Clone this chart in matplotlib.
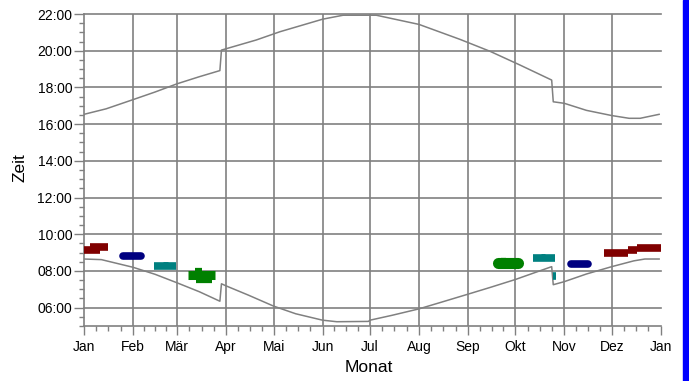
import matplotlib
matplotlib.use("Agg")
import matplotlib.pyplot as plt
import matplotlib.dates as mdates
from matplotlib.patches import Rectangle
from matplotlib.ticker import FixedLocator, FuncFormatter, MultipleLocator
import pandas as pd

YEAR = 2015
month_labels = ["Jan", "Feb", "Mär", "Apr", "Mai", "Jun", "Jul",
                "Aug", "Sep", "Okt", "Nov", "Dez", "Jan"]

# Sunrise / sunset (local time, incl. daylight saving jumps)
sunrise_dates = ["01-01", "01-12", "02-01", "02-15", "03-01", "03-15", "03-28",
                 "03-29", "04-01", "04-15", "05-01", "05-15", "06-01", "06-10",
                 "06-30", "07-01", "07-15", "08-01", "08-14", "09-01", "09-15",
                 "10-01", "10-24", "10-25", "11-01", "11-15", "12-01", "12-15",
                 "12-22", "12-31"]
sunrise_times = ["8:39", "8:37", "8:12", "7:49", "7:21", "6:52", "6:21",
                 "7:18", "7:11", "6:41", "6:05", "5:40", "5:19", "5:14",
                 "5:15", "5:19", "5:35", "5:56", "6:16", "6:44", "7:06",
                 "7:32", "8:14", "7:15", "7:25", "7:50", "8:14", "8:33",
                 "8:39", "8:39"]

sunset_dates = ["01-01", "01-15", "02-01", "02-15", "03-01", "03-15", "03-28",
                "03-29", "04-20", "05-05", "06-01", "06-14", "07-05", "08-01",
                "08-27", "09-15", "10-04", "10-24", "10-25", "11-01", "11-15",
                "12-01", "12-12", "12-19", "12-31"]
sunset_times = ["16:32", "16:50", "17:20", "17:45", "18:12", "18:35", "18:55",
                "20:02", "20:35", "21:02", "21:43", "21:56", "21:56", "21:26",
                "20:37", "19:58", "19:13", "18:24", "17:13", "17:08", "16:45",
                "16:28", "16:19", "16:19", "16:32"]

# Marked periods: (first day, last day, time of day)
marks_darkred = [("01-01", "01-10", "9:08"), ("01-05", "01-15", "9:18"),
                 ("11-26", "12-10", "9:00"), ("12-11", "12-16", "9:08"),
                 ("12-17", "12-31", "9:16")]
marks_navy = [("01-26", "02-05", "8:49"), ("11-05", "11-15", "8:22")]
marks_teal = [("02-14", "02-27", "8:15"), ("10-12", "10-25", "8:42"),
              ("10-25", "10-26", "7:44")]
marks_teal_small = [("02-20", "02-22", "8:22"), ("10-17", "10-19", "8:48")]
marks_green_spring = [("03-08", "03-24", "7:47")]
marks_green_autumn = [("09-20", "10-02", "8:26")]
marks_green_small = [("03-13", "03-22", "7:32"), ("03-12", "03-16", "8:00"),
                     ("09-22", "09-24", "8:34")]


def day(md):
    return mdates.date2num(pd.Timestamp(f"{YEAR}-{md}"))


def hours(hm):
    h, m = hm.split(":")
    return int(h) + int(m) / 60.0


GRAY = "#808080"
plt.rcParams["font.family"] = ["Liberation Sans", "DejaVu Sans"]

fig = plt.figure(figsize=(6.89, 3.81), dpi=100)
ax = fig.add_axes([84 / 689, 55 / 381, 576.7 / 689, 312 / 381])

x0 = day("01-01")
x1 = mdates.date2num(pd.Timestamp(f"{YEAR + 1}-01-01"))
ax.set_xlim(x0, x1)
ax.set_ylim(5, 22)

# grid
month_starts = [mdates.date2num(pd.Timestamp(YEAR, m, 1)) for m in range(1, 13)] + [x1]
for xm in month_starts[1:-1]:
    ax.axvline(xm, color=GRAY, lw=1.2, zorder=1)
for yh in range(6, 23, 2):
    ax.axhline(yh, color=GRAY, lw=1.2, zorder=1, clip_on=False)

# sunrise / sunset curves
ax.plot([day(d) for d in sunrise_dates], [hours(t) for t in sunrise_times],
        color=GRAY, lw=1.1, zorder=2)
ax.plot([day(d) for d in sunset_dates], [hours(t) for t in sunset_times],
        color=GRAY, lw=1.1, zorder=2)


def draw_marks(segs, color, lw, cap="butt"):
    for a, b, t in segs:
        ax.plot([day(a), day(b) + 1], [hours(t)] * 2, color=color, lw=lw,
                solid_capstyle=cap, zorder=3)


draw_marks(marks_darkred, "#800000", 5.5)
draw_marks(marks_navy, "#000080", 5.5, cap="round")
draw_marks(marks_teal, "#008080", 5.5)
draw_marks(marks_teal_small, "#008080", 3.5)
draw_marks(marks_green_spring, "#008000", 6.5)
draw_marks(marks_green_autumn, "#008000", 8.0, cap="round")
draw_marks(marks_green_small, "#008000", 4.5)

# axes styling
for s in ("top", "right"):
    ax.spines[s].set_visible(False)
for s in ("left", "bottom"):
    ax.spines[s].set_color(GRAY)
    ax.spines[s].set_linewidth(1.2)

ax.xaxis.set_major_locator(FixedLocator(month_starts))
ax.set_xticklabels(month_labels)
minor_x = []
for a, b in zip(month_starts[:-1], month_starts[1:]):
    minor_x += [a + k * (b - a) / 4 for k in (1, 2, 3)]
ax.xaxis.set_minor_locator(FixedLocator(minor_x))

ax.yaxis.set_major_locator(FixedLocator(list(range(6, 23, 2))))
ax.yaxis.set_major_formatter(FuncFormatter(lambda v, p: f"{int(v):02d}:00"))
ax.yaxis.set_minor_locator(MultipleLocator(0.5))

ax.tick_params(axis="both", which="both", color=GRAY, labelcolor="black",
               labelsize=10)
ax.tick_params(axis="x", which="major", length=6.5, width=1, pad=3.5)
ax.tick_params(axis="x", which="minor", length=3.5, width=1)
ax.tick_params(axis="y", which="major", length=7.5, width=1, pad=1)
ax.tick_params(axis="y", which="minor", length=3.5, width=1)

fig.text(20 / 689, 1 - 168 / 381, "Zeit", rotation=90, ha="center",
         va="center", fontsize=12.5)
fig.text(369 / 689, 1 - 367 / 381, "Monat", ha="center", va="center",
         fontsize=12.5)

# blue strip on the right edge
fig.patches.append(Rectangle((682.5 / 689, 0), 1 - 682.5 / 689, 1,
                             transform=fig.transFigure, color="#0000FF",
                             zorder=0))

fig.savefig("out.png", dpi=100)
